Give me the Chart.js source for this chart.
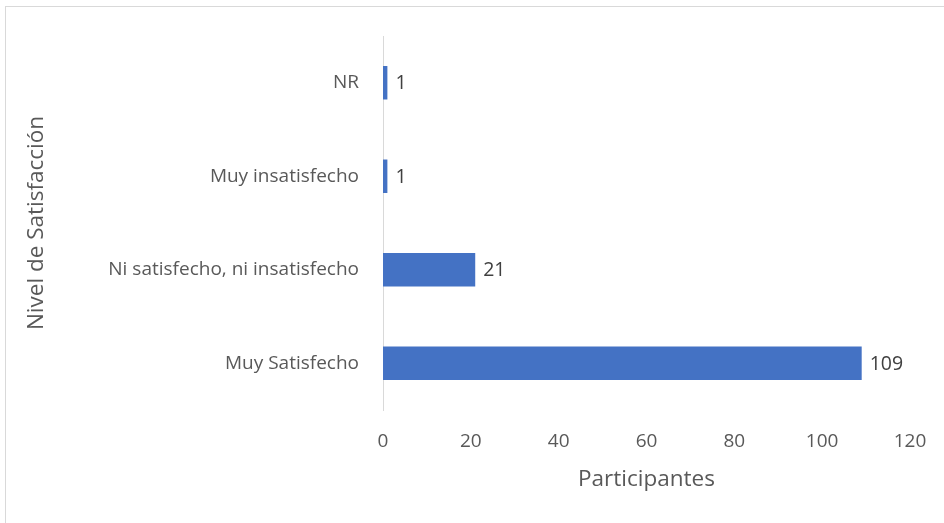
<!DOCTYPE html>
<html>
<head>
<meta charset="utf-8">
<script src="https://cdn.jsdelivr.net/npm/chart.js@4"></script>
<style>
  html, body { margin: 0; padding: 0; background: #fff; overflow: hidden; }
  #frame { position: absolute; left: 5px; top: 6px; width: 960px; height: 540px; border: 1px solid #d9d9d9; box-sizing: border-box; }
  #satChart { position: absolute; left: 0; top: 0; }
</style>
</head>
<body>
<div id="frame"></div>
<canvas id="satChart" width="944" height="523"></canvas>
<script>
// niveles de satisfacción (top -> bottom)
const categories = ['NR', 'Muy insatisfecho', 'Ni satisfecho, ni insatisfecho', 'Muy Satisfecho'];
const participantes = [1, 1, 21, 109];
const xTicks = [0, 20, 40, 60, 80, 100, 120];

const FONT = '"Open Sans", Lato, sans-serif';

// value labels at the end of each bar
const barLabels = {
  id: 'barLabels',
  afterDatasetsDraw(chart) {
    const ctx = chart.ctx;
    const meta = chart.getDatasetMeta(0);
    ctx.save();
    ctx.font = '19.5px ' + FONT;
    ctx.fillStyle = '#404040';
    ctx.textAlign = 'left';
    ctx.textBaseline = 'middle';
    meta.data.forEach((bar, i) => {
      ctx.fillText(String(participantes[i]), bar.x + 8, bar.y + 1);
    });
    ctx.restore();
  }
};

new Chart(document.getElementById('satChart'), {
  type: 'bar',
  data: {
    labels: categories,
    datasets: [{
      label: 'Participantes',
      data: participantes,
      backgroundColor: '#4472C4',
      borderWidth: 0,
      categoryPercentage: 1,
      barPercentage: 0.358
    }]
  },
  options: {
    indexAxis: 'y',
    responsive: false,
    animation: false,
    events: [],
    layout: { padding: { left: 23, top: 36, right: 34, bottom: 30 } },
    plugins: {
      legend: { display: false },
      tooltip: { enabled: false }
    },
    scales: {
      x: {
        min: 0,
        max: 120,
        afterBuildTicks: s => { s.ticks = xTicks.map(v => ({ value: v })); },
        afterFit: s => { s.height = 83; s.paddingLeft = 0; s.paddingRight = 0; },
        grid: { display: false, drawTicks: false },
        border: { display: false },
        ticks: { color: '#595959', font: { family: FONT, size: 19 }, padding: 20, maxRotation: 0 },
        title: { display: true, text: 'Participantes', color: '#595959', font: { family: FONT, size: 22.5 }, padding: 0 }
      },
      y: {
        afterFit: s => { s.width = 360; s.paddingTop = 0; s.paddingBottom = 0; },
        grid: { display: false, drawTicks: false },
        border: { display: true, color: '#d9d9d9', width: 1 },
        ticks: { color: '#595959', font: { family: FONT, size: 19 }, padding: 24 },
        title: { display: true, text: 'Nivel de Satisfacción', color: '#595959', font: { family: FONT, size: 22.5 }, padding: 0 }
      }
    }
  },
  plugins: [barLabels]
});
</script>
</body>
</html>
